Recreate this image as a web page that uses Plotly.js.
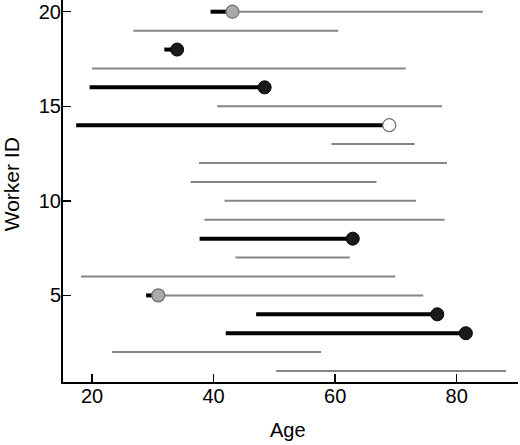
<!DOCTYPE html>
<html>
<head>
<meta charset="utf-8">
<script src="https://cdn.plot.ly/plotly-3.0.1.min.js"></script>
<style>html,body{margin:0;padding:0;background:#fff;}#chart{width:520px;height:445px;}</style>
</head>
<body>
<div id="chart"></div>
<script>
// Worker IDs
const workerIds = [1,2,3,4,5,6,7,8,9,10,11,12,13,14,15,16,17,18,19,20];
// Age at entry
const entryAge = [50.3,23.3,42.0,47.0,28.9,18.2,43.6,37.7,38.5,41.8,36.2,37.6,59.4,17.4,40.6,19.6,20.0,31.9,26.8,39.5];
// Age at event (null = no event)
const eventAge = [null,null,81.5,76.8,30.9,null,null,62.9,null,null,null,null,null,68.9,null,48.4,null,34.0,null,43.1];
// Event type: "black", "gray", "white" (null = no event)
const eventType = [null,null,"black","black","gray",null,null,"black",null,null,null,null,null,"white",null,"black",null,"black",null,"gray"];
// Age at end of follow-up after entry/event (null = none)
const exitAge = [88.1,57.7,null,null,74.5,69.9,62.4,null,78.0,73.3,66.8,78.4,73.1,null,77.6,null,71.6,null,60.5,84.3];

const xTicks = [20,40,60,80];
const yTicks = [5,10,15,20];

// Build segments
const grayX = [], grayY = [], blackX = [], blackY = [];
const mk = {black:{x:[],y:[]}, gray:{x:[],y:[]}, white:{x:[],y:[]}};
workerIds.forEach((id,i)=>{
  const ev = eventAge[i];
  if (ev !== null) {
    blackX.push(entryAge[i], ev, null); blackY.push(id, id, null);
    mk[eventType[i]].x.push(ev); mk[eventType[i]].y.push(id);
    if (exitAge[i] !== null) { grayX.push(ev, exitAge[i], null); grayY.push(id, id, null); }
  } else if (exitAge[i] !== null) {
    grayX.push(entryAge[i], exitAge[i], null); grayY.push(id, id, null);
  }
});

const traces = [
  {x:grayX, y:grayY, mode:'lines', line:{color:'#858585', width:2}, hoverinfo:'skip', connectgaps:false},
  {x:blackX, y:blackY, mode:'lines', line:{color:'#000000', width:4}, hoverinfo:'skip', connectgaps:false},
  {x:mk.black.x, y:mk.black.y, mode:'markers', marker:{color:'#1a1a1a', size:13, line:{color:'#000', width:1}}},
  {x:mk.gray.x, y:mk.gray.y, mode:'markers', marker:{color:'#aaaaaa', size:13, line:{color:'#6e6e6e', width:1.2}}},
  {x:mk.white.x, y:mk.white.y, mode:'markers', marker:{color:'#ffffff', size:13, line:{color:'#707070', width:1.2}}}
];

const font = {family:'"Liberation Sans", Arial, Helvetica, sans-serif', size:20, color:'#000'};
const layout = {
  width:520, height:445,
  margin:{l:63, r:2, t:0, b:63},
  showlegend:false,
  paper_bgcolor:'#fff', plot_bgcolor:'#fff',
  font:font,
  xaxis:{range:[15.23,90.08], tickvals:xTicks, ticks:'inside', ticklen:8, tickwidth:1.5, tickcolor:'#000',
         showline:true, linecolor:'#000', linewidth:2, showgrid:false, zeroline:false,
         tickfont:font, ticklabelstandoff:-5, fixedrange:true},
  yaxis:{range:[0.42,20.62], tickvals:yTicks, ticks:'inside', ticklen:8, tickwidth:1.5, tickcolor:'#000',
         showline:true, linecolor:'#000', linewidth:2, showgrid:false, zeroline:false,
         tickfont:font, ticklabelstandoff:-4, fixedrange:true},
  annotations:[
    {text:'Age', xref:'paper', yref:'paper', x:0.495, y:-0.1265, xanchor:'center', yanchor:'middle', showarrow:false, font:font},
    {text:'Worker ID', xref:'paper', yref:'paper', x:-0.114, y:0.518, xanchor:'center', yanchor:'middle', textangle:-90, showarrow:false, font:{family:font.family, size:21, color:'#000'}}
  ]
};
Plotly.newPlot('chart', traces, layout, {displayModeBar:false, staticPlot:true});
</script>
</body>
</html>
